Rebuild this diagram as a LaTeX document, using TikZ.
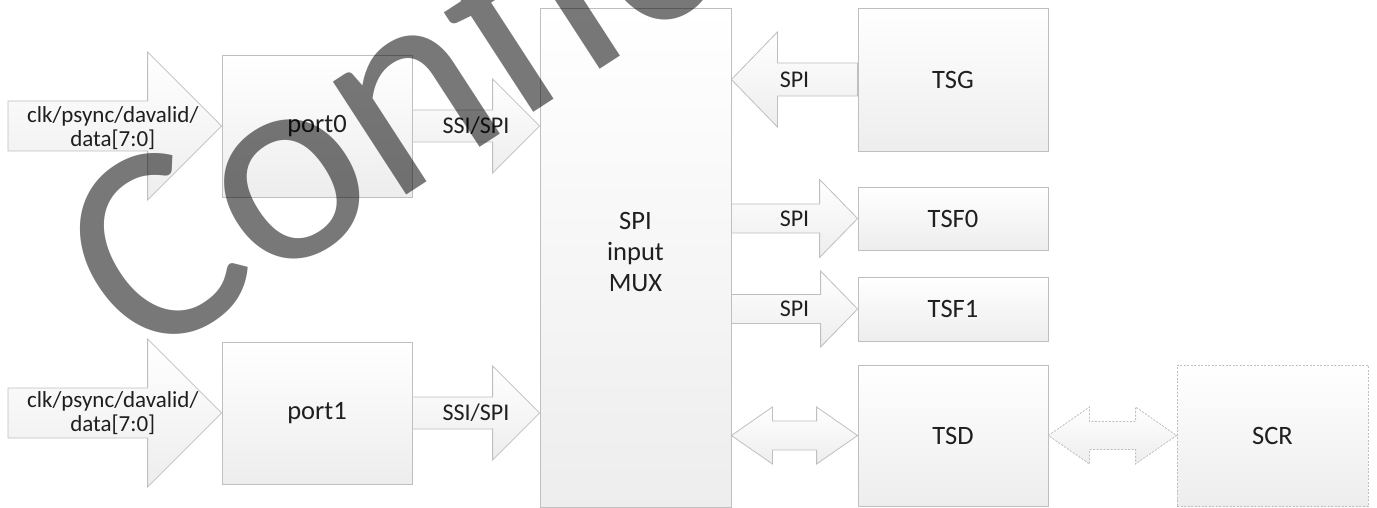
\documentclass[tikz,border=0pt]{standalone}
\usepackage{fontspec}
\setmainfont{Carlito}
\usetikzlibrary{calc}
\definecolor{edge}{HTML}{BFBFBF}
\definecolor{txt}{HTML}{1F1F1F}
\tikzset{
  box/.style={draw=edge, line width=0.8pt, top color=white, bottom color=black!7,
    text=txt, font=\fontsize{26.5}{31}\selectfont, align=center, inner sep=0pt},
  dashbox/.style={box, dash pattern=on 2pt off 1.5pt},
  barrowstyle/.style={draw=edge, line width=0.8pt, top color=white, bottom color=black!7},
  dasharrow/.style={dash pattern=on 2pt off 1.5pt},
  alabel/.style={text=txt, font=\fontsize{24}{25}\selectfont, align=center, inner sep=0pt},
  clabel/.style={alabel, font=\fontsize{23}{24}\selectfont},
}
% block arrow: start, tip, shaft half, head half, head length (negative = pointing left)
\newcommand{\barrow}[6][]{%
  \path[barrowstyle,#1] let \p1=(#2), \p2=(#3) in
    (\x1,{\y2+#4pt}) -- ({\x2-(#6)*1pt},{\y2+#4pt}) -- ({\x2-(#6)*1pt},{\y2+#5pt})
    -- (\x2,\y2) -- ({\x2-(#6)*1pt},{\y2-#5pt}) -- ({\x2-(#6)*1pt},{\y2-#4pt})
    -- (\x1,{\y2-#4pt}) -- cycle;}
% double block arrow: left tip, right tip, shaft half, head half, head length
\newcommand{\dbarrow}[6][]{%
  \path[barrowstyle,#1] let \p1=(#2), \p2=(#3) in
    (\x1,\y2) -- ({\x1+#6pt},{\y2+#5pt}) -- ({\x1+#6pt},{\y2+#4pt})
    -- ({\x2-#6pt},{\y2+#4pt}) -- ({\x2-#6pt},{\y2+#5pt}) -- (\x2,\y2)
    -- ({\x2-#6pt},{\y2-#5pt}) -- ({\x2-#6pt},{\y2-#4pt})
    -- ({\x1+#6pt},{\y2-#4pt}) -- ({\x1+#6pt},{\y2-#5pt}) -- cycle;}
\begin{document}
\begin{tikzpicture}[x=1pt,y=-1pt]
\useasboundingbox (0,0) rectangle (1377,508);

% blocks
\node[box, minimum width=190pt, minimum height=142pt] (port0) at (317,126) {port0};
\node[box, minimum width=190pt, minimum height=142pt] (port1) at (317,413) {port1};
\node[box, minimum width=191pt, minimum height=499pt] (mux) at (635.5,257.5) {};
\node[text=txt, font=\fontsize{26.5}{31}\selectfont, align=center, inner sep=0pt] (muxlabel) at ($(mux.center)+(0,-6)$) {SPI\\input\\MUX};
\node[box, minimum width=190pt, minimum height=143pt] (tsg) at (953,79.5) {TSG};
\node[box, minimum width=190pt, minimum height=63pt] (tsf0) at (953,218.5) {TSF0};
\node[box, minimum width=190pt, minimum height=64pt] (tsf1) at (953,309) {TSF1};
\node[box, minimum width=190pt, minimum height=141pt] (tsd) at (953,435.5) {TSD};
\node[dashbox, minimum width=191pt, minimum height=141pt] (scr) at (1272.5,435.5) {SCR};

\coordinate (in0) at (8,126);
\coordinate (in1) at (8,413);

% connectors
\barrow{in0}{port0.west}{25}{74}{74}
\barrow{in1}{port1.west}{25}{74}{74}
\barrow{port0.east}{mux.west |- port0.east}{16}{47}{47}
\barrow{port1.east}{mux.west |- port1.east}{16}{47}{47}
\barrow{tsg.west}{mux.east |- tsg.west}{16.5}{47.5}{-46}
\barrow{mux.east |- tsf0.west}{tsf0.west}{14.5}{39}{38}
\barrow{mux.east |- tsf1.west}{tsf1.west}{14.5}{38}{37}
\dbarrow{mux.east |- tsd.west}{tsd.west}{14.5}{28.5}{41}
\dbarrow[dasharrow]{tsd.east}{scr.west}{14}{28.5}{41}

% connector labels
\node[clabel] (l0) at ($(in0)!0.5!(port0.west)+(-2,2)$) {clk/psync/davalid/\\data[7:0]};
\node[clabel] (l1) at ($(in1)!0.5!(port1.west)+(-2,0)$) {clk/psync/davalid/\\data[7:0]};
\node[alabel] (l2) at ($(port0.east)!0.5!(mux.west |- port0.east)$) {SSI/SPI};
\node[alabel] (l3) at ($(port1.east)!0.5!(mux.west |- port1.east)$) {SSI/SPI};
\node[alabel] (l4) at ($(tsg.west)!0.5!(mux.east |- tsg.west)$) {SPI};
\node[alabel] (l5) at ($(mux.east |- tsf0.west)!0.5!(tsf0.west)$) {SPI};
\node[alabel] (l6) at ($(mux.east |- tsf1.west)!0.5!(tsf1.west)$) {SPI};

% watermark
\begin{scope}[transparency group, opacity=0.53]
\clip (0,0) rectangle (1377,508);
\node[rotate=33, anchor=base west, inner sep=0pt, text=black,
  font=\fontsize{282}{282}\selectfont] (wm) at (140,368) {Confidential};
\end{scope}
\end{tikzpicture}
\end{document}
